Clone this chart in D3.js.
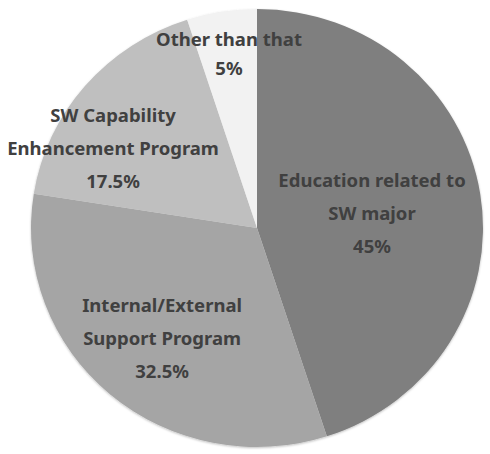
<!DOCTYPE html>
<html><head><meta charset="utf-8">
<script src="https://cdn.jsdelivr.net/npm/d3@7"></script>
<style>body{margin:0;background:#fff;} svg{display:block;}</style>
</head><body>
<script>
const categories = ["Education related to SW major", "Internal/External Support Program", "SW Capability Enhancement Program", "Other than that"];
const values = [45, 32.5, 17.5, 5];
const labelLines = [["Education related to", "SW major", "45%"], ["Internal/External", "Support Program", "32.5%"], ["SW Capability", "Enhancement Program", "17.5%"], ["Other than that", "5%"]];
const colors = ["#7f7f7f", "#a5a5a5", "#bfbfbf", "#f2f2f2"];

const W = 490, H = 454;
const cx = 257, cy = 228, r = 226, sy = 219 / 226;
const svg = d3.select("body").append("svg").attr("width", W).attr("height", H);

const pie = d3.pie().sort(null).value(d => d)(values);
const arc = d3.arc().innerRadius(0).outerRadius(r);

const defs = svg.append("defs");
const f = defs.append("filter").attr("id", "sh").attr("x", "-5%").attr("y", "-5%").attr("width", "110%").attr("height", "110%");
f.append("feDropShadow").attr("dx", 0).attr("dy", 1).attr("stdDeviation", 1.2).attr("flood-color", "#000").attr("flood-opacity", 0.25);

const g = svg.append("g").attr("transform", `translate(${cx},${cy}) scale(1,${sy})`).attr("filter", "url(#sh)");
g.selectAll("path").data(pie).join("path")
  .attr("d", arc).attr("fill", (d, i) => colors[i]);

// label anchor (middle line baseline) as fraction of radius from center
const labelPos = [[0.509, -0.035], [-0.42, 0.518], [-0.637, -0.323], [-0.124, -0.741]];
const lineH = [33, 33, 33, 29];
const tg = svg.append("g").attr("transform", `translate(${cx},${cy})`);
pie.forEach((d, i) => {
  const x = labelPos[i][0] * r, y = labelPos[i][1] * r;
  const lines = labelLines[i];
  const t = tg.append("text").attr("text-anchor", "middle")
    .attr("font-family", "'Noto Sans', sans-serif").attr("font-weight", "bold")
    .attr("font-size", 18.5).attr("fill", "#404040");
  lines.forEach((l, j) => {
    t.append("tspan").attr("x", x).attr("y", y + (j - (lines.length - 1) / 2) * lineH[i]).text(l);
  });
});
</script>
</body></html>
